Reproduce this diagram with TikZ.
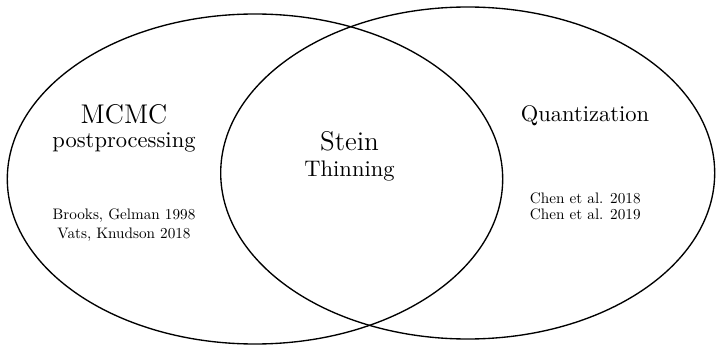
\documentclass[tikz,border=0pt]{standalone}
\begin{document}
\begin{tikzpicture}[x=0.444pt,y=-0.444pt,
  setline/.style={line width=0.6pt},
  bigtxt/.style={anchor=base,inner sep=0pt,font=\large},
  midtxt/.style={anchor=base,inner sep=0pt,font=\normalsize},
  reftxt/.style={anchor=base,inner sep=0pt,font=\normalsize,scale=0.675}]
\useasboundingbox (0,0) rectangle (716,346);
\draw[setline] (255,179) ellipse [x radius=247.7, y radius=165];
\draw[setline] (467.7,173) ellipse [x radius=247, y radius=166];
\node[bigtxt] (mcmc) at (124,123.3) {MCMC};
\node[midtxt] (post) at (124,147.3) {postprocessing};
\node[reftxt] (brooks) at (124,220) {Brooks, Gelman 1998};
\node[reftxt] (vats) at (124,238.3) {Vats, Knudson 2018};
\node[bigtxt] (stein) at (349.5,151) {Stein};
\node[midtxt] (thin) at (349.5,176) {Thinning};
\node[midtxt] (quant) at (585,121.7) {Quantization};
\node[reftxt] (chena) at (585.3,203.3) {Chen et al. 2018};
\node[reftxt] (chenb) at (585.3,220) {Chen et al. 2019};
\end{tikzpicture}
\end{document}
